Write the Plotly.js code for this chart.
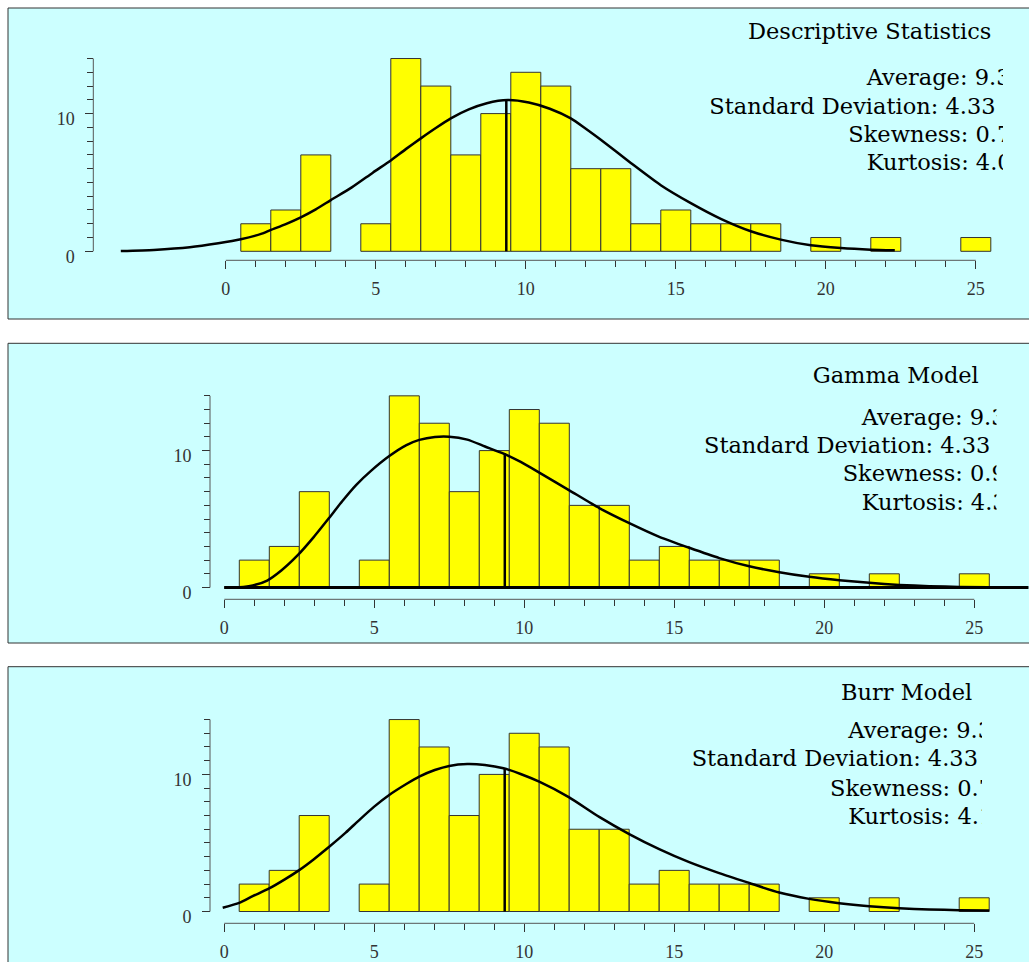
<!DOCTYPE html>
<html><head><meta charset="utf-8">
<script src="https://cdn.plot.ly/plotly-3.0.1.min.js"></script>
<style>html,body{margin:0;padding:0;background:#fff}#chart{width:1029px;height:962px}</style>
</head><body><div id="chart"></div>
<script>
// ---------- data ----------
const binCenters = [1,2,3,4,5,6,7,8,9,10,11,12,13,14,15,16,17,18,19,20,21,22,23,24,25];
const counts     = [2,3,7,0,2,14,12,7,10,13,12,6,6,2,3,2,2,2,0,1,0,1,0,0,1];

const normalX = [-3.5,-2.4,-1.2,-0.25,0.5,1.2,1.5,2.0,2.5,3.0,3.5,4.2,4.9,5.5,6.0,6.5,7.0,7.5,8.1,8.7,9.4,10.1,10.8,11.5,12.0,12.5,13.5,14.5,15.5,16.5,17.5,18.5,19.5,20.5,21.5,22.3];
const normalY = [0.02,0.1,0.29,0.58,0.87,1.28,1.55,1.98,2.47,3.05,3.72,4.64,5.71,6.6,7.42,8.2,8.95,9.65,10.3,10.75,10.98,10.8,10.35,9.65,8.9,8.1,6.42,4.8,3.5,2.36,1.46,0.85,0.44,0.24,0.12,0.07];

const gammaX = [0,0.5,0.95,1.43,1.9,2.44,2.98,3.5,3.93,4.4,4.88,5.5,6.07,6.5,7.02,7.5,8.1,8.69,9.31,9.88,10.5,11.5,12.5,13.5,14.5,15.5,16.5,17.5,18.5,19.5,20.5,21.5,22.5,23.5,24.5,26.8];
const gammaY = [0,0.02,0.15,0.51,1.24,2.34,3.68,5.1,6.3,7.5,8.5,9.6,10.4,10.78,11.0,11.02,10.8,10.3,9.78,9.17,8.39,7.10,5.8,4.7,3.7,2.9,2.15,1.55,1.12,0.78,0.53,0.34,0.19,0.1,0.04,0.0];

const burrX = [-0.05,0.5,0.95,1.5,2.02,2.5,2.98,3.5,4.05,4.5,5.0,5.5,6.07,6.5,7.02,7.5,8.1,8.69,9.31,9.88,10.5,11.5,12.5,13.5,14.5,15.5,16.5,17.5,18.5,19.5,20.5,21.5,22.5,23.5,24.5,25.5];
const burrY = [0.27,0.63,1.12,1.68,2.34,3.02,3.80,4.72,5.75,6.67,7.65,8.50,9.30,9.84,10.32,10.62,10.76,10.69,10.45,10.03,9.47,8.33,6.9,5.65,4.55,3.6,2.8,2.08,1.38,0.92,0.61,0.39,0.24,0.15,0.10,0.07];

const meanValue = 9.35;
const meanHeights = [10.98, 9.8, 10.45];

const gammaBaseX = [0, 26.8];
const gammaBaseY = [0, 0];

const xTickVals = [0,5,10,15,20,25];
const xTickText = ['0','5','10','15','20','25'];
const yTickVals = [0,5,10];
const yTickText = ['0','','10'];
const xMinorTicks = [0,1,2,3,4,5,6,7,8,9,10,11,12,13,14,15,16,17,18,19,20,21,22,23,24,25];
const yMinorTicks = [0,1,2,3,4,5,6,7,8,9,10,11,12,13,14];

const panelTitles = ['Descriptive Statistics','Gamma Model','Burr Model'];
const statLines = [
  ['Average: 9.32','Standard Deviation: 4.33','Skewness: 0.72','Kurtosis: 4.06'],
  ['Average: 9.32','Standard Deviation: 4.33','Skewness: 0.93','Kurtosis: 4.31'],
  ['Average: 9.32','Standard Deviation: 4.33','Skewness: 0.72','Kurtosis: 4.15']
];

// ---------- geometry (pixels) ----------
const W = 1029, H = 962;
const panels = [
  {top:8, bottom:319, x0:225.8, y0:251.3, pyu:13.77, xAxisY:260.3, yAxisX:93.3, clip:1003,
   textLeft:[748,866.7,709.3,848.3,866.7], base:[39.3,85,114,142.7,170.7]},
  {top:343.3, bottom:643, x0:224.3, y0:587.5, pyu:13.69, xAxisY:599.3, yAxisX:210, clip:996.5,
   textLeft:[812.7,861.7,704,842.7,861.7], base:[383.3,425,453.3,481.7,510]},
  {top:666.7, bottom:962, x0:224.2, y0:911.5, pyu:13.71, xAxisY:923.3, yAxisX:210, clip:982,
   textLeft:[841,848.3,691.7,830,848.3], base:[700,738.3,766.7,796,824.3]}
];
const PXU = 30;
const curves = [[normalX, normalY],[gammaX, gammaY],[burrX, burrY]];

const tickFont = {family:'Liberation Serif, serif', size:18, color:'#333'};
const textFont = {family:'DejaVu Serif, serif', size:22.5, color:'#000'};
const FS = 22.5;

const data = [];
const layout = {
  width:W, height:H, margin:{l:0,r:0,t:0,b:0},
  paper_bgcolor:'#ffffff', plot_bgcolor:'rgba(0,0,0,0)',
  showlegend:false, bargap:0, shapes:[]
};

panels.forEach((p, i) => {
  const n = i + 1;
  const xa = n === 1 ? 'x' : 'x' + n;
  const ya = n === 1 ? 'y' : 'y' + n;
  const xKey = n === 1 ? 'xaxis' : 'xaxis' + n;
  const yKey = n === 1 ? 'yaxis' : 'yaxis' + n;
  const yDom = [Math.max(0, 1 - p.bottom / H), 1 - p.top / H];
  const xAxisPos = 1 - p.xAxisY / H;
  const yAxisPos = p.yAxisX / W;

  layout[xKey] = {
    domain:[0,1], range:[-p.x0 / PXU, (W - p.x0) / PXU], anchor:'free', position:xAxisPos,
    showline:false, showgrid:false, zeroline:false, fixedrange:true,
    tickmode:'array', tickvals:xTickVals, ticktext:xTickText,
    ticks:'outside', ticklen:8, tickwidth:1, tickcolor:'#333', tickfont:tickFont,
    ticklabelstandoff:4,
    minor:{tickmode:'array', tickvals:xMinorTicks, ticks:'outside', ticklen:6, tickwidth:1, tickcolor:'#333', showgrid:false}
  };
  layout[yKey] = {
    domain:yDom,
    range:[(p.y0 - Math.min(p.bottom, H)) / p.pyu, (p.y0 - p.top) / p.pyu],
    anchor:'free', position:yAxisPos, side:'left',
    showline:false, showgrid:false, zeroline:false, fixedrange:true,
    tickmode:'array', tickvals:yTickVals, ticktext:yTickText,
    ticks:'outside', ticklen:8, tickwidth:1, tickcolor:'#333', tickfont:tickFont,
    ticklabelshift:5, ticklabelstandoff:7,
    minor:{tickmode:'array', tickvals:yMinorTicks, ticks:'outside', ticklen:6, tickwidth:1, tickcolor:'#333', showgrid:false}
  };

  // panel background
  layout.shapes.push({type:'rect', xref:'paper', yref:'paper', layer:'below',
    x0:8 / W, x1:1.05, y0:(p.bottom >= H ? -0.05 : 1 - p.bottom / H), y1:1 - p.top / H,
    fillcolor:'#ccffff', line:{color:'#333', width:1}});
  // axis lines
  layout.shapes.push({type:'line', xref:xa, yref:'paper',
    x0:xMinorTicks[0], x1:xMinorTicks[xMinorTicks.length - 1], y0:xAxisPos, y1:xAxisPos,
    line:{color:'#555', width:1}});
  layout.shapes.push({type:'line', xref:'paper', yref:ya,
    x0:yAxisPos, x1:yAxisPos, y0:yMinorTicks[0], y1:yMinorTicks[yMinorTicks.length - 1],
    line:{color:'#555', width:1}});

  // bars
  data.push({type:'bar', x:binCenters, y:counts.map(c => c === 0 ? null : c), width:1,
    xaxis:xa, yaxis:ya, marker:{color:'#ffff00', line:{color:'#333', width:1}}, hoverinfo:'skip'});
  // gamma baseline
  if (i === 1) {
    data.push({type:'scatter', mode:'lines', x:gammaBaseX, y:gammaBaseY, xaxis:xa, yaxis:ya,
      line:{color:'#000', width:3}, hoverinfo:'skip', cliponaxis:false});
  }
  // fitted curve
  data.push({type:'scatter', mode:'lines', x:curves[i][0], y:curves[i][1], xaxis:xa, yaxis:ya,
    line:{color:'#000', width:2.5, shape:'spline', smoothing:0.6}, hoverinfo:'skip'});
  // mean line
  data.push({type:'scatter', mode:'lines', x:[meanValue, meanValue], y:[0, meanHeights[i]], xaxis:xa, yaxis:ya,
    line:{color:'#000', width:2.5}, hoverinfo:'skip'});

  // text overlay subplot (pixel coordinates, clipped)
  const tn = n + 3;
  const txKey = 'xaxis' + tn, tyKey = 'yaxis' + tn;
  layout[txKey] = {domain:[0, p.clip / W], range:[0, p.clip], visible:false, fixedrange:true, anchor:'y' + tn};
  layout[tyKey] = {domain:yDom, range:[Math.min(p.bottom, H), p.top], visible:false, fixedrange:true, anchor:'x' + tn};
  const lines = [panelTitles[i]].concat(statLines[i]);
  data.push({type:'scatter', mode:'text', xaxis:'x' + tn, yaxis:'y' + tn,
    x:p.textLeft, y:p.base.map(b => b - 0.27 * FS), text:lines,
    textposition:'middle right', textfont:textFont, hoverinfo:'skip', cliponaxis:true});
});

Plotly.newPlot('chart', data, layout, {displayModeBar:false, staticPlot:true});
</script>
</body></html>
